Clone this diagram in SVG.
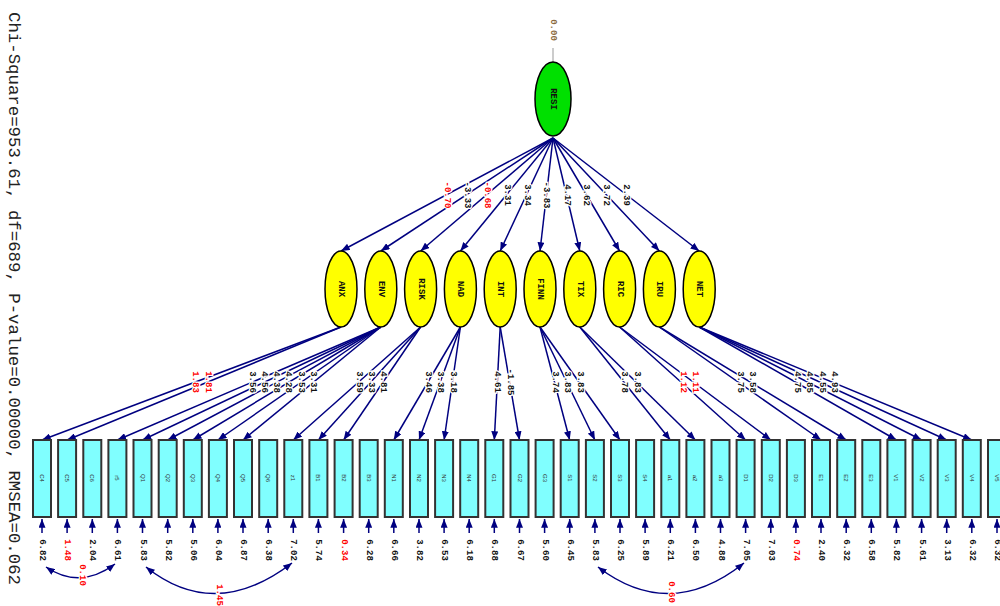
<svg xmlns="http://www.w3.org/2000/svg" width="1000" height="606" viewBox="0 0 1000 606">
<defs>
<marker id="a" viewBox="0 0 10 8" refX="10" refY="4" markerWidth="9" markerHeight="7" orient="auto-start-reverse" markerUnits="userSpaceOnUse"><path d="M0,0L10,4L0,8z" fill="#000080"/></marker>
</defs>
<style>
.lat{fill:#ffff00;stroke:#000;stroke-width:1.5}
.res{fill:#00e000;stroke:#000;stroke-width:1.5}
.obs{fill:#80ffff;stroke:#333;stroke-width:2}
.ar{stroke:#000080;stroke-width:1.5;fill:none;marker-end:url(#a)}
.ar2{stroke:#000080;stroke-width:1.5;fill:none;marker-end:url(#a);marker-start:url(#a)}
.t{font-family:"Liberation Mono",monospace;font-size:9px;font-weight:bold;fill:#111;text-anchor:middle;dominant-baseline:central;paint-order:stroke;stroke:#fff;stroke-width:2.5px}
.r{fill:#ff0000}
.ln{font-family:"Liberation Mono",monospace;font-size:9px;font-weight:bold;fill:#111;text-anchor:middle;dominant-baseline:central}
.bl{font-family:"Liberation Sans",sans-serif;font-size:6px;fill:#333;text-anchor:middle;dominant-baseline:central}
.ttl{font-family:"Liberation Mono",monospace;font-size:16px;fill:#222}
</style>
<text class="ttl" transform="translate(9,12) rotate(90)" textLength="573" lengthAdjust="spacingAndGlyphs">Chi-Square=953.61, df=689, P-value=0.00000, RMSEA=0.062</text>

<g id="connectors">
<line x1="553" y1="48" x2="553" y2="62" stroke="#999" stroke-width="1"/>
<line class="ar" x1="553" y1="138" x2="341" y2="251"/>
<line class="ar" x1="553" y1="138" x2="380.8" y2="251"/>
<line class="ar" x1="553" y1="138" x2="420.6" y2="251"/>
<line class="ar" x1="553" y1="138" x2="460.4" y2="251"/>
<line class="ar" x1="553" y1="138" x2="500.2" y2="251"/>
<line class="ar" x1="553" y1="138" x2="540" y2="251"/>
<line class="ar" x1="553" y1="138" x2="579.8" y2="251"/>
<line class="ar" x1="553" y1="138" x2="619.6" y2="251"/>
<line class="ar" x1="553" y1="138" x2="659.4" y2="251"/>
<line class="ar" x1="553" y1="138" x2="699.2" y2="251"/>
<line class="ar" x1="341" y1="327" x2="42" y2="440"/>
<line class="ar" x1="341" y1="327" x2="67.1" y2="440"/>
<line class="ar" x1="380.8" y1="327" x2="117.4" y2="440"/>
<line class="ar" x1="380.8" y1="327" x2="142.5" y2="440"/>
<line class="ar" x1="380.8" y1="327" x2="167.7" y2="440"/>
<line class="ar" x1="380.8" y1="327" x2="192.8" y2="440"/>
<line class="ar" x1="380.8" y1="327" x2="217.9" y2="440"/>
<line class="ar" x1="380.8" y1="327" x2="243" y2="440"/>
<line class="ar" x1="420.6" y1="327" x2="293.3" y2="440"/>
<line class="ar" x1="420.6" y1="327" x2="318.4" y2="440"/>
<line class="ar" x1="420.6" y1="327" x2="343.6" y2="440"/>
<line class="ar" x1="460.4" y1="327" x2="393.8" y2="440"/>
<line class="ar" x1="460.4" y1="327" x2="419" y2="440"/>
<line class="ar" x1="460.4" y1="327" x2="444.1" y2="440"/>
<line class="ar" x1="500.2" y1="327" x2="494.3" y2="440"/>
<line class="ar" x1="500.2" y1="327" x2="519.5" y2="440"/>
<line class="ar" x1="540" y1="327" x2="569.7" y2="440"/>
<line class="ar" x1="540" y1="327" x2="594.9" y2="440"/>
<line class="ar" x1="540" y1="327" x2="620" y2="440"/>
<line class="ar" x1="579.8" y1="327" x2="670.3" y2="440"/>
<line class="ar" x1="579.8" y1="327" x2="695.4" y2="440"/>
<line class="ar" x1="619.6" y1="327" x2="745.6" y2="440"/>
<line class="ar" x1="619.6" y1="327" x2="770.8" y2="440"/>
<line class="ar" x1="659.4" y1="327" x2="821" y2="440"/>
<line class="ar" x1="659.4" y1="327" x2="846.2" y2="440"/>
<line class="ar" x1="699.2" y1="327" x2="896.4" y2="440"/>
<line class="ar" x1="699.2" y1="327" x2="921.6" y2="440"/>
<line class="ar" x1="699.2" y1="327" x2="946.7" y2="440"/>
<line class="ar" x1="699.2" y1="327" x2="971.8" y2="440"/>
<line class="ar" x1="42" y1="533" x2="42" y2="519"/>
<line class="ar" x1="67.1" y1="533" x2="67.1" y2="519"/>
<line class="ar" x1="92.3" y1="533" x2="92.3" y2="519"/>
<line class="ar" x1="117.4" y1="533" x2="117.4" y2="519"/>
<line class="ar" x1="142.5" y1="533" x2="142.5" y2="519"/>
<line class="ar" x1="167.7" y1="533" x2="167.7" y2="519"/>
<line class="ar" x1="192.8" y1="533" x2="192.8" y2="519"/>
<line class="ar" x1="217.9" y1="533" x2="217.9" y2="519"/>
<line class="ar" x1="243" y1="533" x2="243" y2="519"/>
<line class="ar" x1="268.2" y1="533" x2="268.2" y2="519"/>
<line class="ar" x1="293.3" y1="533" x2="293.3" y2="519"/>
<line class="ar" x1="318.4" y1="533" x2="318.4" y2="519"/>
<line class="ar" x1="343.6" y1="533" x2="343.6" y2="519"/>
<line class="ar" x1="368.7" y1="533" x2="368.7" y2="519"/>
<line class="ar" x1="393.8" y1="533" x2="393.8" y2="519"/>
<line class="ar" x1="419" y1="533" x2="419" y2="519"/>
<line class="ar" x1="444.1" y1="533" x2="444.1" y2="519"/>
<line class="ar" x1="469.2" y1="533" x2="469.2" y2="519"/>
<line class="ar" x1="494.3" y1="533" x2="494.3" y2="519"/>
<line class="ar" x1="519.5" y1="533" x2="519.5" y2="519"/>
<line class="ar" x1="544.6" y1="533" x2="544.6" y2="519"/>
<line class="ar" x1="569.7" y1="533" x2="569.7" y2="519"/>
<line class="ar" x1="594.9" y1="533" x2="594.9" y2="519"/>
<line class="ar" x1="620" y1="533" x2="620" y2="519"/>
<line class="ar" x1="645.1" y1="533" x2="645.1" y2="519"/>
<line class="ar" x1="670.3" y1="533" x2="670.3" y2="519"/>
<line class="ar" x1="695.4" y1="533" x2="695.4" y2="519"/>
<line class="ar" x1="720.5" y1="533" x2="720.5" y2="519"/>
<line class="ar" x1="745.6" y1="533" x2="745.6" y2="519"/>
<line class="ar" x1="770.8" y1="533" x2="770.8" y2="519"/>
<line class="ar" x1="795.9" y1="533" x2="795.9" y2="519"/>
<line class="ar" x1="821" y1="533" x2="821" y2="519"/>
<line class="ar" x1="846.2" y1="533" x2="846.2" y2="519"/>
<line class="ar" x1="871.3" y1="533" x2="871.3" y2="519"/>
<line class="ar" x1="896.4" y1="533" x2="896.4" y2="519"/>
<line class="ar" x1="921.6" y1="533" x2="921.6" y2="519"/>
<line class="ar" x1="946.7" y1="533" x2="946.7" y2="519"/>
<line class="ar" x1="971.8" y1="533" x2="971.8" y2="519"/>
<line class="ar" x1="997" y1="533" x2="997" y2="519"/>
<path class="ar2" d="M46,567 Q80,590 115,564"/>
<path class="ar2" d="M146,567 Q215,622 292,563"/>
<path class="ar2" d="M598,567 Q670,622 744,563"/>
</g>

<g id="path-labels">
<text class="t" transform="translate(553,30) rotate(90)" style="fill:#8a6a40">0.00</text>
<text class="t r" transform="translate(447,195) rotate(90)">-0.70</text>
<text class="t" transform="translate(467,195) rotate(90)">-3.33</text>
<text class="t r" transform="translate(487,195) rotate(90)">-0.68</text>
<text class="t" transform="translate(507,195) rotate(90)">3.31</text>
<text class="t" transform="translate(527,195) rotate(90)">3.34</text>
<text class="t" transform="translate(546,195) rotate(90)">-3.83</text>
<text class="t" transform="translate(567,195) rotate(90)">4.17</text>
<text class="t" transform="translate(586,195) rotate(90)">3.62</text>
<text class="t" transform="translate(606,195) rotate(90)">3.72</text>
<text class="t" transform="translate(626,195) rotate(90)">2.39</text>
<text class="t r" transform="translate(195,382) rotate(90)">1.83</text>
<text class="t r" transform="translate(208,382) rotate(90)">1.81</text>
<text class="t" transform="translate(252,382) rotate(90)">3.56</text>
<text class="t" transform="translate(264,382) rotate(90)">4.56</text>
<text class="t" transform="translate(276,382) rotate(90)">4.38</text>
<text class="t" transform="translate(288,382) rotate(90)">4.28</text>
<text class="t" transform="translate(301,382) rotate(90)">3.53</text>
<text class="t" transform="translate(313,382) rotate(90)">3.31</text>
<text class="t" transform="translate(359,382) rotate(90)">3.59</text>
<text class="t" transform="translate(371,382) rotate(90)">3.33</text>
<text class="t" transform="translate(383,382) rotate(90)">4.81</text>
<text class="t" transform="translate(428,382) rotate(90)">3.46</text>
<text class="t" transform="translate(440,382) rotate(90)">3.38</text>
<text class="t" transform="translate(453,382) rotate(90)">3.18</text>
<text class="t" transform="translate(497,382) rotate(90)">4.61</text>
<text class="t" transform="translate(510,382) rotate(90)">-1.85</text>
<text class="t" transform="translate(555,382) rotate(90)">3.74</text>
<text class="t" transform="translate(567,382) rotate(90)">3.83</text>
<text class="t" transform="translate(580,382) rotate(90)">3.83</text>
<text class="t" transform="translate(624,382) rotate(90)">3.78</text>
<text class="t" transform="translate(637,382) rotate(90)">3.83</text>
<text class="t r" transform="translate(683,382) rotate(90)">1.12</text>
<text class="t r" transform="translate(695,382) rotate(90)">1.11</text>
<text class="t" transform="translate(740,382) rotate(90)">3.75</text>
<text class="t" transform="translate(752,382) rotate(90)">3.58</text>
<text class="t" transform="translate(797,382) rotate(90)">4.75</text>
<text class="t" transform="translate(809,382) rotate(90)">4.85</text>
<text class="t" transform="translate(822,382) rotate(90)">4.55</text>
<text class="t" transform="translate(834,382) rotate(90)">4.93</text>
<text class="t" transform="translate(42,550) rotate(90)">6.82</text>
<text class="t r" transform="translate(67.1,550) rotate(90)">1.48</text>
<text class="t" transform="translate(92.3,550) rotate(90)">2.04</text>
<text class="t" transform="translate(117.4,550) rotate(90)">6.61</text>
<text class="t" transform="translate(142.5,550) rotate(90)">5.83</text>
<text class="t" transform="translate(167.7,550) rotate(90)">5.82</text>
<text class="t" transform="translate(192.8,550) rotate(90)">5.06</text>
<text class="t" transform="translate(217.9,550) rotate(90)">6.04</text>
<text class="t" transform="translate(243,550) rotate(90)">6.87</text>
<text class="t" transform="translate(268.2,550) rotate(90)">6.38</text>
<text class="t" transform="translate(293.3,550) rotate(90)">7.02</text>
<text class="t" transform="translate(318.4,550) rotate(90)">5.74</text>
<text class="t r" transform="translate(343.6,550) rotate(90)">0.34</text>
<text class="t" transform="translate(368.7,550) rotate(90)">6.28</text>
<text class="t" transform="translate(393.8,550) rotate(90)">6.66</text>
<text class="t" transform="translate(419,550) rotate(90)">3.82</text>
<text class="t" transform="translate(444.1,550) rotate(90)">6.53</text>
<text class="t" transform="translate(469.2,550) rotate(90)">6.18</text>
<text class="t" transform="translate(494.3,550) rotate(90)">6.88</text>
<text class="t" transform="translate(519.5,550) rotate(90)">6.67</text>
<text class="t" transform="translate(544.6,550) rotate(90)">5.60</text>
<text class="t" transform="translate(569.7,550) rotate(90)">6.45</text>
<text class="t" transform="translate(594.9,550) rotate(90)">5.83</text>
<text class="t" transform="translate(620,550) rotate(90)">6.25</text>
<text class="t" transform="translate(645.1,550) rotate(90)">5.89</text>
<text class="t" transform="translate(670.3,550) rotate(90)">6.21</text>
<text class="t" transform="translate(695.4,550) rotate(90)">6.50</text>
<text class="t" transform="translate(720.5,550) rotate(90)">4.88</text>
<text class="t" transform="translate(745.6,550) rotate(90)">7.05</text>
<text class="t" transform="translate(770.8,550) rotate(90)">7.03</text>
<text class="t r" transform="translate(795.9,550) rotate(90)">0.74</text>
<text class="t" transform="translate(821,550) rotate(90)">2.40</text>
<text class="t" transform="translate(846.2,550) rotate(90)">6.32</text>
<text class="t" transform="translate(871.3,550) rotate(90)">6.58</text>
<text class="t" transform="translate(896.4,550) rotate(90)">5.82</text>
<text class="t" transform="translate(921.6,550) rotate(90)">5.61</text>
<text class="t" transform="translate(946.7,550) rotate(90)">3.13</text>
<text class="t" transform="translate(971.8,550) rotate(90)">6.32</text>
<text class="t" transform="translate(997,550) rotate(90)">6.32</text>
<text class="t r" transform="translate(82,575) rotate(90)">0.10</text>
<text class="t r" transform="translate(219,595) rotate(90)">1.45</text>
<text class="t r" transform="translate(671,592) rotate(90)">0.60</text>
</g>

<g id="RESI"><ellipse class="res" cx="553" cy="99" rx="18" ry="37"/><text class="ln" transform="translate(553,99) rotate(90)">RESI</text></g>
<g id="ANX"><ellipse class="lat" cx="341" cy="289" rx="16" ry="38"/><text class="ln" transform="translate(341,289) rotate(90)">ANX</text></g>
<g id="ENV"><ellipse class="lat" cx="380.8" cy="289" rx="16" ry="38"/><text class="ln" transform="translate(380.8,289) rotate(90)">ENV</text></g>
<g id="RISK"><ellipse class="lat" cx="420.6" cy="289" rx="16" ry="38"/><text class="ln" transform="translate(420.6,289) rotate(90)">RISK</text></g>
<g id="NAD"><ellipse class="lat" cx="460.4" cy="289" rx="16" ry="38"/><text class="ln" transform="translate(460.4,289) rotate(90)">NAD</text></g>
<g id="INT"><ellipse class="lat" cx="500.2" cy="289" rx="16" ry="38"/><text class="ln" transform="translate(500.2,289) rotate(90)">INT</text></g>
<g id="FINN"><ellipse class="lat" cx="540" cy="289" rx="16" ry="38"/><text class="ln" transform="translate(540,289) rotate(90)">FINN</text></g>
<g id="TIX"><ellipse class="lat" cx="579.8" cy="289" rx="16" ry="38"/><text class="ln" transform="translate(579.8,289) rotate(90)">TIX</text></g>
<g id="RIC"><ellipse class="lat" cx="619.6" cy="289" rx="16" ry="38"/><text class="ln" transform="translate(619.6,289) rotate(90)">RIC</text></g>
<g id="IRU"><ellipse class="lat" cx="659.4" cy="289" rx="16" ry="38"/><text class="ln" transform="translate(659.4,289) rotate(90)">IRU</text></g>
<g id="NET"><ellipse class="lat" cx="699.2" cy="289" rx="16" ry="38"/><text class="ln" transform="translate(699.2,289) rotate(90)">NET</text></g>

<g id="observed">
<g id="o0"><rect class="obs" x="33" y="440" width="18" height="77"/><text class="bl" transform="translate(42,478) rotate(90)">C4</text></g>
<g id="o1"><rect class="obs" x="58.1" y="440" width="18" height="77"/><text class="bl" transform="translate(67.1,478) rotate(90)">C5</text></g>
<g id="o2"><rect class="obs" x="83.3" y="440" width="18" height="77"/><text class="bl" transform="translate(92.3,478) rotate(90)">C6</text></g>
<g id="o3"><rect class="obs" x="108.4" y="440" width="18" height="77"/><text class="bl" transform="translate(117.4,478) rotate(90)">r5</text></g>
<g id="o4"><rect class="obs" x="133.5" y="440" width="18" height="77"/><text class="bl" transform="translate(142.5,478) rotate(90)">Q1</text></g>
<g id="o5"><rect class="obs" x="158.7" y="440" width="18" height="77"/><text class="bl" transform="translate(167.7,478) rotate(90)">Q2</text></g>
<g id="o6"><rect class="obs" x="183.8" y="440" width="18" height="77"/><text class="bl" transform="translate(192.8,478) rotate(90)">Q3</text></g>
<g id="o7"><rect class="obs" x="208.9" y="440" width="18" height="77"/><text class="bl" transform="translate(217.9,478) rotate(90)">Q4</text></g>
<g id="o8"><rect class="obs" x="234" y="440" width="18" height="77"/><text class="bl" transform="translate(243,478) rotate(90)">Q5</text></g>
<g id="o9"><rect class="obs" x="259.2" y="440" width="18" height="77"/><text class="bl" transform="translate(268.2,478) rotate(90)">Q6</text></g>
<g id="o10"><rect class="obs" x="284.3" y="440" width="18" height="77"/><text class="bl" transform="translate(293.3,478) rotate(90)">z1</text></g>
<g id="o11"><rect class="obs" x="309.4" y="440" width="18" height="77"/><text class="bl" transform="translate(318.4,478) rotate(90)">B1</text></g>
<g id="o12"><rect class="obs" x="334.6" y="440" width="18" height="77"/><text class="bl" transform="translate(343.6,478) rotate(90)">B2</text></g>
<g id="o13"><rect class="obs" x="359.7" y="440" width="18" height="77"/><text class="bl" transform="translate(368.7,478) rotate(90)">B3</text></g>
<g id="o14"><rect class="obs" x="384.8" y="440" width="18" height="77"/><text class="bl" transform="translate(393.8,478) rotate(90)">N1</text></g>
<g id="o15"><rect class="obs" x="410" y="440" width="18" height="77"/><text class="bl" transform="translate(419,478) rotate(90)">N2</text></g>
<g id="o16"><rect class="obs" x="435.1" y="440" width="18" height="77"/><text class="bl" transform="translate(444.1,478) rotate(90)">N3</text></g>
<g id="o17"><rect class="obs" x="460.2" y="440" width="18" height="77"/><text class="bl" transform="translate(469.2,478) rotate(90)">N4</text></g>
<g id="o18"><rect class="obs" x="485.3" y="440" width="18" height="77"/><text class="bl" transform="translate(494.3,478) rotate(90)">G1</text></g>
<g id="o19"><rect class="obs" x="510.5" y="440" width="18" height="77"/><text class="bl" transform="translate(519.5,478) rotate(90)">G2</text></g>
<g id="o20"><rect class="obs" x="535.6" y="440" width="18" height="77"/><text class="bl" transform="translate(544.6,478) rotate(90)">G3</text></g>
<g id="o21"><rect class="obs" x="560.7" y="440" width="18" height="77"/><text class="bl" transform="translate(569.7,478) rotate(90)">S1</text></g>
<g id="o22"><rect class="obs" x="585.9" y="440" width="18" height="77"/><text class="bl" transform="translate(594.9,478) rotate(90)">S2</text></g>
<g id="o23"><rect class="obs" x="611" y="440" width="18" height="77"/><text class="bl" transform="translate(620,478) rotate(90)">S3</text></g>
<g id="o24"><rect class="obs" x="636.1" y="440" width="18" height="77"/><text class="bl" transform="translate(645.1,478) rotate(90)">S4</text></g>
<g id="o25"><rect class="obs" x="661.3" y="440" width="18" height="77"/><text class="bl" transform="translate(670.3,478) rotate(90)">a1</text></g>
<g id="o26"><rect class="obs" x="686.4" y="440" width="18" height="77"/><text class="bl" transform="translate(695.4,478) rotate(90)">a2</text></g>
<g id="o27"><rect class="obs" x="711.5" y="440" width="18" height="77"/><text class="bl" transform="translate(720.5,478) rotate(90)">a3</text></g>
<g id="o28"><rect class="obs" x="736.6" y="440" width="18" height="77"/><text class="bl" transform="translate(745.6,478) rotate(90)">D1</text></g>
<g id="o29"><rect class="obs" x="761.8" y="440" width="18" height="77"/><text class="bl" transform="translate(770.8,478) rotate(90)">D2</text></g>
<g id="o30"><rect class="obs" x="786.9" y="440" width="18" height="77"/><text class="bl" transform="translate(795.9,478) rotate(90)">D3</text></g>
<g id="o31"><rect class="obs" x="812" y="440" width="18" height="77"/><text class="bl" transform="translate(821,478) rotate(90)">E1</text></g>
<g id="o32"><rect class="obs" x="837.2" y="440" width="18" height="77"/><text class="bl" transform="translate(846.2,478) rotate(90)">E2</text></g>
<g id="o33"><rect class="obs" x="862.3" y="440" width="18" height="77"/><text class="bl" transform="translate(871.3,478) rotate(90)">E3</text></g>
<g id="o34"><rect class="obs" x="887.4" y="440" width="18" height="77"/><text class="bl" transform="translate(896.4,478) rotate(90)">V1</text></g>
<g id="o35"><rect class="obs" x="912.6" y="440" width="18" height="77"/><text class="bl" transform="translate(921.6,478) rotate(90)">V2</text></g>
<g id="o36"><rect class="obs" x="937.7" y="440" width="18" height="77"/><text class="bl" transform="translate(946.7,478) rotate(90)">V3</text></g>
<g id="o37"><rect class="obs" x="962.8" y="440" width="18" height="77"/><text class="bl" transform="translate(971.8,478) rotate(90)">V4</text></g>
<g id="o38"><rect class="obs" x="988" y="440" width="18" height="77"/><text class="bl" transform="translate(997,478) rotate(90)">V5</text></g>
</g>
</svg>
